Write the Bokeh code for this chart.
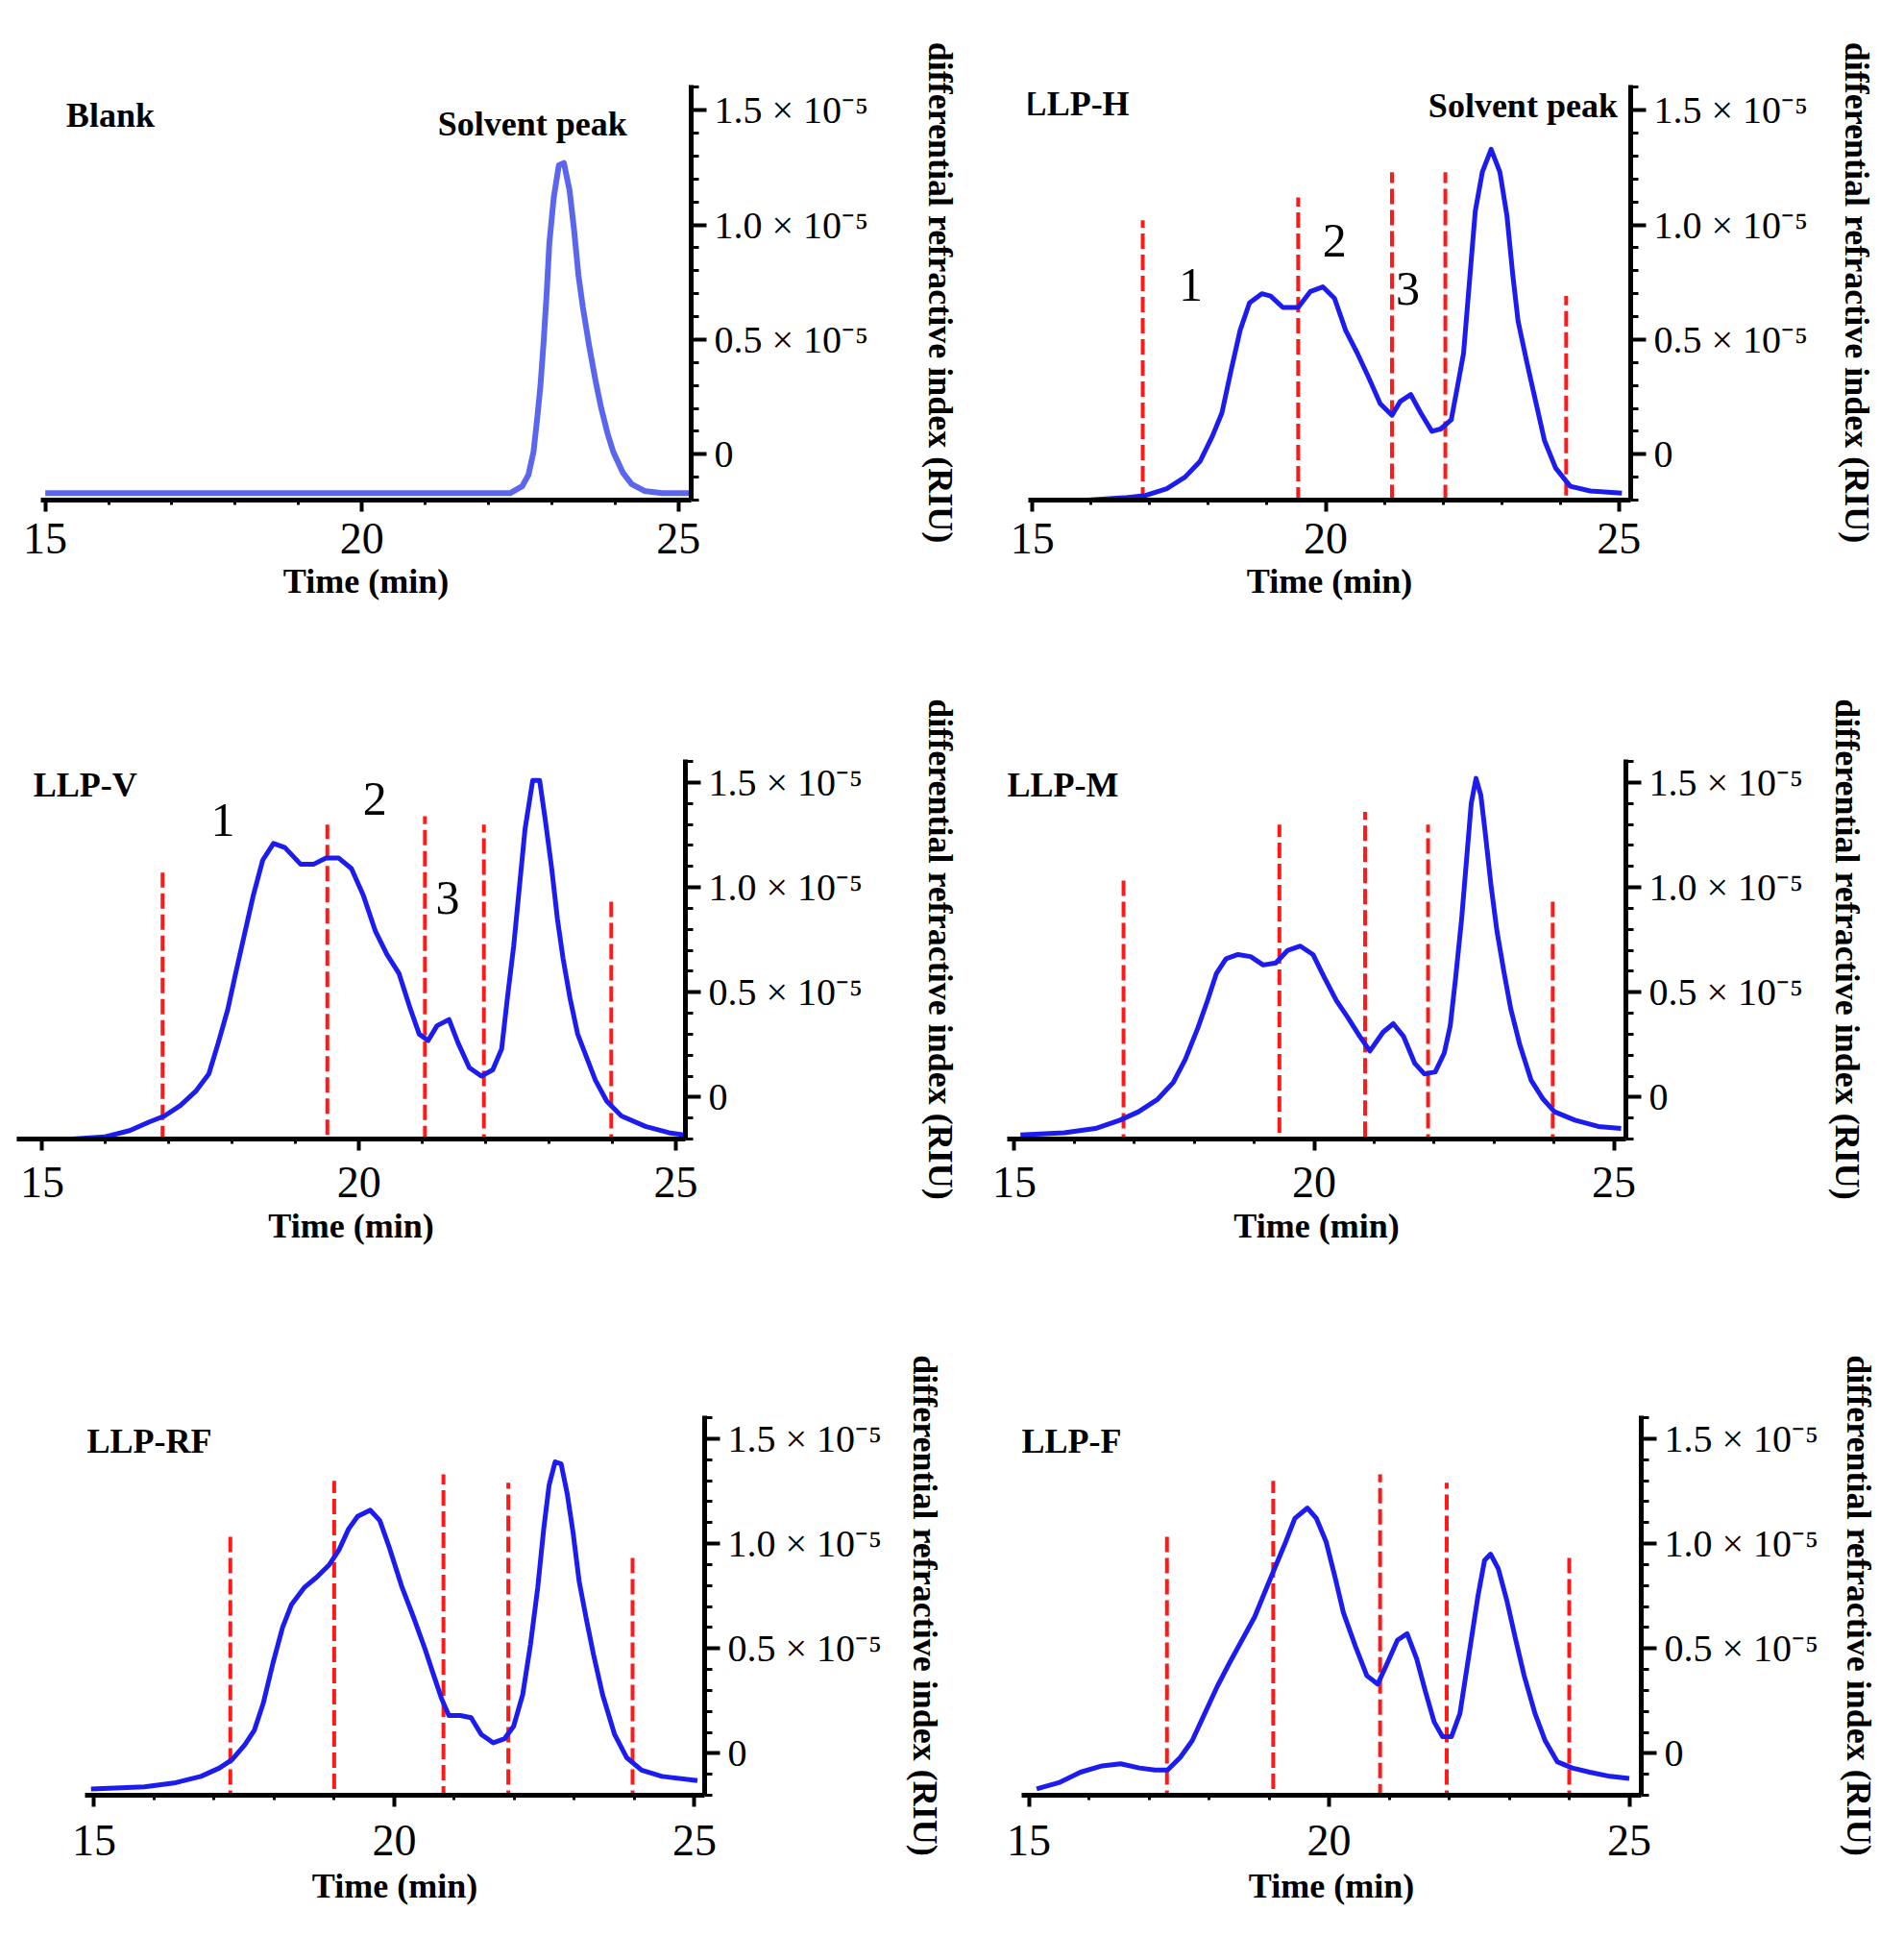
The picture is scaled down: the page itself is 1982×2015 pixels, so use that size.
from bokeh.plotting import figure
from bokeh.models import FixedTicker, Range1d
from bokeh.layouts import column, row
from bokeh.core.properties import value
from bokeh.embed import file_html
from bokeh.resources import INLINE

SERIF = "Liberation Serif"

# retention time (min) and differential refractive index (in units of 1e-5 RIU)
blank_t = [15.0, 22.34, 22.53, 22.63, 22.71, 22.77, 22.82, 22.87, 22.92, 22.96, 23.03, 23.11, 23.19,
           23.28, 23.35, 23.42, 23.49, 23.59, 23.69, 23.78, 23.88, 23.97, 24.12, 24.26, 24.46, 24.74, 25.2]
blank_ri = [-0.17, -0.17, -0.14, -0.09, 0.01, 0.16, 0.30, 0.49, 0.71, 0.92, 1.12, 1.26, 1.27,
            1.15, 0.98, 0.78, 0.64, 0.47, 0.32, 0.20, 0.09, 0.01, -0.08, -0.13, -0.16, -0.17, -0.17]

llph_t = [15.1, 15.94, 16.56, 16.93, 17.29, 17.6, 17.86, 18.07, 18.23, 18.39, 18.54, 18.7, 18.91, 19.06,
          19.27, 19.53, 19.74, 19.95, 20.15, 20.34, 20.54, 20.74, 20.93, 21.13, 21.27, 21.45, 21.62, 21.81,
          21.96, 22.14, 22.25, 22.35, 22.45, 22.55, 22.67, 22.82, 22.97, 23.09, 23.19, 23.28, 23.43, 23.58,
          23.73, 23.92, 24.17, 24.51, 25.05]
llph_ri = [-0.2, -0.2, -0.19, -0.18, -0.15, -0.1, -0.03, 0.08, 0.18, 0.37, 0.54, 0.66, 0.7, 0.69,
           0.64, 0.64, 0.71, 0.73, 0.68, 0.54, 0.44, 0.33, 0.22, 0.17, 0.23, 0.26, 0.18, 0.1,
           0.11, 0.15, 0.3, 0.44, 0.75, 1.06, 1.23, 1.33, 1.23, 1.04, 0.78, 0.58, 0.4, 0.23,
           0.06, -0.06, -0.14, -0.16, -0.17]
llph_cut_t = [16.88, 19.53, 21.13, 22.04, 24.1]
llph_cut_top = [1.02, 1.12, 1.23, 1.23, 0.69]
llph_cut_bot = [-0.21, -0.21, -0.2, -0.2, -0.18]

llpv_t = [14.6, 15.48, 15.98, 16.38, 16.68, 16.93, 17.18, 17.43, 17.63, 17.78, 17.93, 18.06, 18.18, 18.33,
          18.48, 18.65, 18.83, 19.08, 19.28, 19.48, 19.68, 19.88, 20.07, 20.26, 20.44, 20.63, 20.81, 20.95,
          21.09, 21.23, 21.42, 21.56, 21.74, 21.93, 22.11, 22.25, 22.34, 22.44, 22.53, 22.62, 22.74, 22.85,
          22.94, 23.04, 23.13, 23.22, 23.33, 23.45, 23.59, 23.73, 23.91, 24.14, 24.52, 24.89, 25.12]
llpv_ri = [-0.2, -0.2, -0.19, -0.16, -0.12, -0.09, -0.04, 0.03, 0.11, 0.26, 0.42, 0.6, 0.76, 0.96,
           1.13, 1.21, 1.19, 1.11, 1.11, 1.14, 1.14, 1.09, 0.96, 0.79, 0.68, 0.59, 0.42, 0.3,
           0.27, 0.34, 0.37, 0.26, 0.14, 0.1, 0.13, 0.23, 0.47, 0.72, 1.0, 1.28, 1.51, 1.51,
           1.32, 1.09, 0.85, 0.66, 0.47, 0.3, 0.19, 0.08, -0.02, -0.09, -0.14, -0.17, -0.18]
llpv_cut_t = [16.9, 19.5, 21.04, 21.97, 23.98]
llpv_cut_top = [1.07, 1.3, 1.34, 1.3, 0.94]
llpv_cut_bot = [-0.21, -0.18, -0.21, -0.25, -0.25]

llpm_t = [15.1, 15.83, 16.35, 16.76, 17.07, 17.39, 17.65, 17.85, 18.06, 18.22, 18.37, 18.53, 18.73, 18.94,
          19.15, 19.36, 19.56, 19.77, 19.98, 20.17, 20.37, 20.56, 20.76, 20.93, 21.15, 21.32, 21.49, 21.68,
          21.84, 22.02, 22.17, 22.27, 22.36, 22.46, 22.55, 22.62, 22.7, 22.78, 22.85, 22.95, 23.05, 23.17,
          23.28, 23.43, 23.62, 23.82, 24.01, 24.35, 24.74, 25.12]
llpm_ri = [-0.18, -0.17, -0.15, -0.11, -0.07, -0.01, 0.07, 0.18, 0.33, 0.46, 0.59, 0.66, 0.68, 0.67,
           0.63, 0.64, 0.7, 0.72, 0.68, 0.57, 0.46, 0.38, 0.29, 0.22, 0.31, 0.35, 0.29, 0.16,
           0.11, 0.12, 0.21, 0.34, 0.57, 0.85, 1.16, 1.4, 1.52, 1.44, 1.27, 1.01, 0.79, 0.59,
           0.42, 0.25, 0.08, -0.01, -0.07, -0.11, -0.14, -0.15]
llpm_cut_t = [16.82, 19.42, 20.85, 21.9, 23.98]
llpm_cut_top = [1.06, 1.3, 1.36, 1.3, 0.94]
llpm_cut_bot = [-0.25, -0.17, -0.19, -0.25, -0.25]

llprf_t = [14.95, 15.84, 16.36, 16.78, 17.09, 17.3, 17.51, 17.67, 17.82, 17.98, 18.14, 18.29, 18.5, 18.71,
           18.92, 19.08, 19.24, 19.39, 19.6, 19.76, 19.92, 20.12, 20.32, 20.51, 20.66, 20.79, 20.91, 21.1,
           21.28, 21.45, 21.65, 21.84, 21.99, 22.14, 22.27, 22.39, 22.49, 22.58, 22.68, 22.78, 22.88, 22.98,
           23.08, 23.2, 23.32, 23.47, 23.67, 23.87, 24.12, 24.46, 25.05]
llprf_ri = [-0.17, -0.16, -0.14, -0.11, -0.07, -0.03, 0.04, 0.11, 0.24, 0.43, 0.6, 0.71, 0.79, 0.84,
            0.9, 0.97, 1.07, 1.13, 1.16, 1.11, 0.98, 0.8, 0.65, 0.5, 0.37, 0.26, 0.18, 0.18,
            0.17, 0.09, 0.05, 0.07, 0.13, 0.28, 0.52, 0.79, 1.07, 1.28, 1.39, 1.38, 1.24, 1.05,
            0.82, 0.64, 0.47, 0.28, 0.09, -0.02, -0.08, -0.11, -0.13]
llprf_cut_t = [17.27, 19.0, 20.82, 21.9, 23.97]
llprf_cut_top = [1.06, 1.3, 1.33, 1.29, 0.94]
llprf_cut_bot = [-0.25, -0.17, -0.23, -0.25, -0.25]

llpf_t = [15.13, 15.5, 15.86, 16.22, 16.53, 16.84, 17.1, 17.31, 17.52, 17.72, 17.93, 18.14, 18.34, 18.55,
          18.76, 18.96, 19.12, 19.28, 19.43, 19.64, 19.79, 19.95, 20.1, 20.24, 20.44, 20.63, 20.81, 20.97,
          21.14, 21.3, 21.46, 21.6, 21.75, 21.89, 22.04, 22.18, 22.33, 22.48, 22.59, 22.69, 22.82, 22.96,
          23.11, 23.25, 23.43, 23.6, 23.8, 24.05, 24.34, 24.68, 25.0]
llpf_ri = [-0.17, -0.14, -0.09, -0.06, -0.05, -0.07, -0.08, -0.08, -0.02, 0.06, 0.19, 0.32, 0.43, 0.54,
           0.65, 0.79, 0.9, 1.01, 1.12, 1.17, 1.12, 1.01, 0.84, 0.67, 0.51, 0.37, 0.33, 0.43,
           0.54, 0.57, 0.45, 0.3, 0.15, 0.08, 0.08, 0.19, 0.47, 0.75, 0.92, 0.95, 0.88, 0.73,
           0.54, 0.37, 0.19, 0.06, -0.04, -0.07, -0.09, -0.11, -0.12]
llpf_cut_t = [17.3, 19.07, 20.85, 21.96, 24.0]
llpf_cut_top = [1.06, 1.3, 1.33, 1.29, 0.94]
llpf_cut_bot = [-0.25, -0.17, -0.22, -0.25, -0.25]

# fraction numbers (LLP-H, LLP-V)
frac_text = ["1", "2", "3"]
llph_frac_t = [17.7, 20.15, 21.4]
llph_frac_ri = [0.74, 0.93, 0.72]
llpv_frac_t = [17.85, 20.25, 21.4]
llpv_frac_ri = [1.32, 1.42, 0.95]

x_ticks = [15, 20, 25]
y_ticks = [0, 0.5, 1.0, 1.5]
y_tick_labels = ["0", "0.5 \u00d7 10\u207b\u2075", "1.0 \u00d7 10\u207b\u2075", "1.5 \u00d7 10\u207b\u2075"]


def panel(name, t, ri, color, xr, frame, border, lab_pos, solvent=None, cuts=None,
          fracs=None, ylab_standoff=40, xtick_standoff=12, xlab_standoff=0, lw=5):
    p = figure(x_range=Range1d(*xr), y_range=Range1d(-0.2, 1.61),
               frame_width=frame[0], frame_height=frame[1],
               min_border_left=border[0], min_border_right=border[1],
               min_border_top=border[2], min_border_bottom=border[3],
               y_axis_location="right", toolbar_location=None,
               output_backend="svg", background_fill_color="white",
               border_fill_color="white", outline_line_color=None)
    p.grid.visible = False

    if cuts is not None:
        ct, ctop, cbot = cuts
        p.segment(x0=ct, y0=cbot, x1=ct, y1=ctop, line_color="#ff1a1a",
                  line_width=4, line_dash="16 6")

    p.line(t, ri, line_color=color, line_width=lw, line_join="round")

    p.text(x=[lab_pos[0]], y=[lab_pos[1]], text=[name], text_font=value(SERIF),
           text_font_style="bold", text_font_size="36px", text_align="left",
           text_baseline="middle", text_color="black")
    if solvent is not None:
        p.text(x=[solvent[0]], y=[solvent[1]], text=["Solvent peak"], text_font=value(SERIF),
               text_font_style="bold", text_font_size="36px", text_align="left",
               text_baseline="middle", text_color="black")
    if fracs is not None:
        p.text(x=fracs[0], y=fracs[1], text=frac_text, text_font=value(SERIF),
               text_font_size="50px", text_align="center", text_baseline="middle",
               text_color="black")

    xa = p.xaxis[0]
    xa.ticker = FixedTicker(ticks=x_ticks, minor_ticks=list(range(15, 26)))
    xa.axis_label = "Time (min)"
    xa.axis_label_text_font = SERIF
    xa.axis_label_text_font_style = "bold"
    xa.axis_label_text_font_size = "36px"
    xa.axis_label_text_color = "black"
    xa.axis_label_standoff = xlab_standoff
    xa.major_label_text_font = SERIF
    xa.major_label_text_font_size = "46px"
    xa.major_label_text_color = "black"
    xa.major_label_standoff = xtick_standoff
    xa.axis_line_width = 5
    xa.major_tick_line_width = 4
    xa.minor_tick_line_width = 3
    xa.major_tick_in = 0
    xa.major_tick_out = 12
    xa.minor_tick_in = 0
    xa.minor_tick_out = 5

    ya = p.yaxis[0]
    ya.ticker = FixedTicker(ticks=y_ticks, minor_ticks=[i / 10 for i in range(-2, 17)])
    ya.major_label_overrides = dict(zip(y_ticks, y_tick_labels))
    ya.axis_label = "differential refractive index (RIU)"
    ya.axis_label_text_font = SERIF
    ya.axis_label_text_font_style = "bold"
    ya.axis_label_text_font_size = "36px"
    ya.axis_label_text_color = "black"
    ya.axis_label_standoff = ylab_standoff
    ya.major_label_text_font = SERIF
    ya.major_label_text_font_size = "40px"
    ya.major_label_text_color = "black"
    ya.major_label_standoff = 8
    ya.axis_line_width = 5
    ya.major_tick_line_width = 4
    ya.minor_tick_line_width = 3
    ya.major_tick_in = 0
    ya.major_tick_out = 16
    ya.minor_tick_in = 0
    ya.minor_tick_out = 8
    return p


p1 = panel("Blank", blank_t, blank_ri, "#5b66ee", (14.93, 25.2), (677, 432), (42, 281, 88, 162),
           (15.33, 1.48), solvent=(21.2, 1.44), ylab_standoff=52,
           xtick_standoff=12, xlab_standoff=6, lw=6)
p2 = panel("LLP-H", llph_t, llph_ri, "#1c1cf0", (14.93, 25.2), (627, 432), (68, 271, 88, 162),
           (14.85, 1.53), solvent=(21.75, 1.52), cuts=(llph_cut_t, llph_cut_top, llph_cut_bot),
           fracs=(llph_frac_t, llph_frac_ri), ylab_standoff=28, xtick_standoff=12, xlab_standoff=6)
p3 = panel("LLP-V", llpv_t, llpv_ri, "#1c1cf0", (14.6, 25.15), (696, 395), (17, 287, 108, 167),
           (14.86, 1.49), cuts=(llpv_cut_t, llpv_cut_top, llpv_cut_bot),
           fracs=(llpv_frac_t, llpv_frac_ri), ylab_standoff=58, xtick_standoff=17, xlab_standoff=7)
p4 = panel("LLP-M", llpm_t, llpm_ri, "#1c1cf0", (14.88, 25.2), (644, 395), (46, 276, 108, 167),
           (14.88, 1.49), cuts=(llpm_cut_t, llpm_cut_top, llpm_cut_bot), ylab_standoff=23,
           xtick_standoff=17, xlab_standoff=7)
p5 = panel("LLP-RF", llprf_t, llprf_ri, "#1c1cf0", (14.85, 25.17), (645, 395), (88, 267, 121, 131),
           (14.88, 1.49), cuts=(llprf_cut_t, llprf_cut_top, llprf_cut_bot), ylab_standoff=22,
           xtick_standoff=19, xlab_standoff=9)
p6 = panel("LLP-F", llpf_t, llpf_ri, "#1c1cf0", (14.88, 25.2), (645, 395), (63, 258, 121, 131),
           (14.88, 1.49), cuts=(llpf_cut_t, llpf_cut_top, llpf_cut_bot), ylab_standoff=19,
           xtick_standoff=19, xlab_standoff=9)

layout = column(row(p1, p2), row(p3, p4), row(p5, p6))

open("out.html", "w").write(file_html(layout, INLINE))
